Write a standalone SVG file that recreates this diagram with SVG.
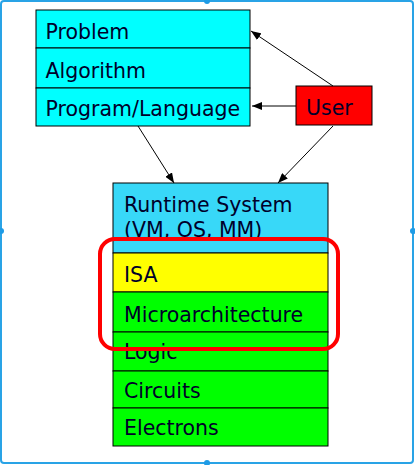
<svg xmlns="http://www.w3.org/2000/svg" width="415" height="465" viewBox="0 0 415 465">
<style>
.t{font-family:"DejaVu Sans",Verdana,sans-serif;font-size:20.5px;fill:#00002a}
.b{stroke:#000;stroke-width:1}
.c{stroke:#000;stroke-width:1;fill:none;marker-end:url(#ah)}
.h{fill:#1e9be6}
</style>
<defs>
<marker id="ah" markerUnits="userSpaceOnUse" markerWidth="10" markerHeight="8" refX="10" refY="4" orient="auto">
<path d="M0,0 L10,4 L0,8 z" fill="#000"/>
</marker>
</defs>
<rect x="0" y="0" width="415" height="465" fill="#fff"/>
<rect x="1" y="1" width="412" height="462" rx="3" fill="none" stroke="#29a3e6" stroke-width="2"/>
<circle class="h" cx="207" cy="1" r="3"/>
<circle class="h" cx="207" cy="463" r="3"/>
<circle class="h" cx="1" cy="231" r="3"/>
<circle class="h" cx="413" cy="231" r="3"/>
<g id="problem"><rect class="b" x="36" y="10" width="214" height="38" fill="#00ffff"/><text class="t" x="45.5" y="39">Problem</text></g>
<g id="algorithm"><rect class="b" x="36" y="48" width="214" height="40" fill="#00ffff"/><text class="t" x="45.5" y="77.5">Algorithm</text></g>
<g id="program"><rect class="b" x="36" y="88" width="214" height="38" fill="#00ffff"/><text class="t" x="45.5" y="115.5">Program/Language</text></g>
<g id="user"><rect class="b" x="296" y="86" width="76" height="39" fill="#ff0000"/><text class="t" x="306" y="115">User</text></g>
<g id="runtime"><rect class="b" x="113" y="183" width="215" height="70" fill="#38d8f8"/><text class="t" x="124" y="211.5">Runtime System</text><text class="t" x="124" y="236.5">(VM, OS, MM)</text></g>
<g id="isa"><rect class="b" x="113" y="253" width="215" height="39" fill="#ffff00"/><text class="t" x="124" y="281.5">ISA</text></g>
<g id="micro"><rect class="b" x="113" y="292" width="215" height="40" fill="#00ff00"/><text class="t" x="124" y="321.5">Microarchitecture</text></g>
<g id="logic"><rect class="b" x="113" y="332" width="215" height="39" fill="#00ff00"/><text class="t" x="124" y="358.5">Logic</text></g>
<g id="circuits"><rect class="b" x="113" y="371" width="215" height="37" fill="#00ff00"/><text class="t" x="124" y="397.5">Circuits</text></g>
<g id="electrons"><rect class="b" x="113" y="408" width="215" height="38" fill="#00ff00"/><text class="t" x="124" y="435">Electrons</text></g>
<g id="highlight"><rect x="100" y="239" width="238" height="110" rx="15" fill="none" stroke="#ff0000" stroke-width="4"/></g>
<g id="connectors">
<line class="c" x1="333" y1="86" x2="251" y2="31"/>
<line class="c" x1="296" y1="106" x2="252" y2="106"/>
<line class="c" x1="138" y1="126" x2="174" y2="183"/>
<line class="c" x1="333" y1="126" x2="278" y2="183"/>
</g>
</svg>
